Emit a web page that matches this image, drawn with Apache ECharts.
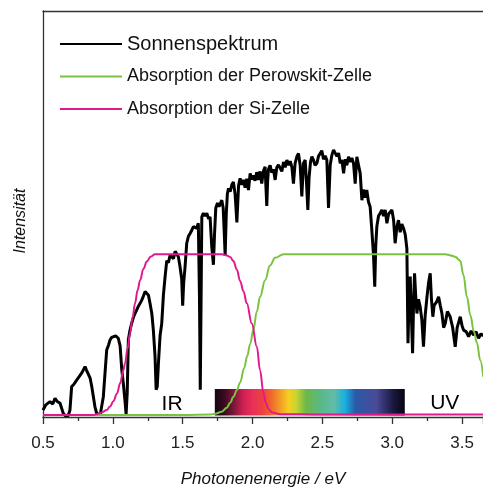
<!DOCTYPE html>
<html>
<head>
<meta charset="utf-8">
<script src="https://cdn.jsdelivr.net/npm/echarts@6/dist/echarts.min.js"></script>
<style>
html, body { margin: 0; padding: 0; background: #fff; }
#main { width: 483px; height: 487px; }
</style>
</head>
<body>
<div id="main"></div>
<script>
// Sonnenspektrum (photon energy in eV, intensity arb. units)
const spectrum = [
  [0.50, 1.7], [0.52, 3.0], [0.55, 3.8], [0.57, 3.2], [0.586, 4.6], [0.60, 3.9], [0.622, 3.4],
  [0.635, 2.0], [0.645, 0.9], [0.66, 0.3], [0.68, 0.3], [0.693, 1.7], [0.705, 7.5], [0.72, 8.0],
  [0.741, 9.1], [0.76, 10.0], [0.78, 11.0], [0.801, 12.4], [0.812, 11.5], [0.825, 11.2], [0.838, 9.5],
  [0.849, 7.5], [0.872, 2.5], [0.885, 0.8], [0.896, 0.5], [0.91, 0.6], [0.92, 0.9], [0.932, 5],
  [0.944, 10.8], [0.956, 16.5], [0.97, 17.8], [0.98, 19], [0.992, 19.6], [1.004, 19.8], [1.02, 20.0],
  [1.039, 19.4], [1.052, 17.5], [1.064, 11.6], [1.075, 8.3], [1.087, 4], [1.095, 0.7], [1.103, 6],
  [1.111, 19], [1.123, 21.4], [1.135, 23.1], [1.147, 24.5], [1.159, 25.5], [1.171, 26.4], [1.183, 27.3],
  [1.195, 28], [1.207, 28.8], [1.219, 29.8], [1.231, 30.9], [1.243, 31.2], [1.255, 30.0], [1.266, 28],
  [1.279, 25.5], [1.29, 21.4], [1.302, 15], [1.31, 6.7], [1.318, 7.5], [1.326, 13], [1.338, 20],
  [1.35, 23], [1.362, 30], [1.374, 34.5], [1.386, 38.5], [1.398, 38.0], [1.41, 39.9], [1.422, 40.3],
  [1.434, 39.0], [1.446, 40.8], [1.458, 41.1], [1.469, 39.5], [1.481, 37.0], [1.493, 34], [1.50, 27.4],
  [1.507, 33], [1.517, 37], [1.529, 42.8], [1.541, 44.5], [1.553, 45.2], [1.565, 46.0], [1.577, 46.9],
  [1.589, 47.3], [1.60, 46.5], [1.612, 47.7], [1.62, 30], [1.626, 6.7], [1.632, 30], [1.637, 49.3],
  [1.648, 50.2], [1.66, 49.5], [1.673, 50.2], [1.685, 48.8], [1.696, 49.3], [1.708, 42], [1.72, 37.5],
  [1.728, 45], [1.737, 51.5], [1.749, 52.7], [1.76, 51.8], [1.78, 53.4], [1.79, 51.5], [1.798, 45],
  [1.804, 39.8], [1.812, 50], [1.82, 55.0], [1.828, 56.3], [1.84, 55.5], [1.852, 57.2], [1.863, 57.9],
  [1.875, 55], [1.888, 47.9], [1.90, 57], [1.911, 58.8], [1.923, 57.2], [1.935, 58.4], [1.947, 56.5],
  [1.959, 58.7], [1.971, 55.9], [1.983, 60], [1.995, 58.5], [2.006, 59.5], [2.018, 58.2], [2.03, 60.3],
  [2.042, 58.4], [2.054, 60.5], [2.066, 57.5], [2.078, 60.6], [2.09, 61.6], [2.097, 56], [2.102, 52.0],
  [2.108, 58], [2.114, 61.0], [2.126, 62.0], [2.138, 60.2], [2.15, 61], [2.162, 58.4], [2.174, 61.5],
  [2.186, 62.1], [2.198, 62.5], [2.21, 60.5], [2.222, 62.8], [2.234, 61.5], [2.246, 63.3], [2.258, 62.0],
  [2.27, 63], [2.282, 61.5], [2.293, 57.5], [2.305, 62.5], [2.317, 64.1], [2.329, 64.9], [2.341, 62],
  [2.353, 54.3], [2.365, 62.5], [2.377, 63.3], [2.386, 58], [2.396, 51], [2.405, 59], [2.415, 62.8],
  [2.425, 64.1], [2.436, 63.3], [2.448, 62], [2.461, 62.5], [2.472, 64.2], [2.484, 64.1], [2.496, 65.6],
  [2.508, 63.5], [2.52, 64.3], [2.532, 63.3], [2.544, 51.5], [2.556, 62], [2.568, 64.5], [2.58, 65.8],
  [2.592, 66.2], [2.604, 64.2], [2.616, 65], [2.628, 62.5], [2.64, 63.3], [2.652, 60], [2.664, 63.5],
  [2.675, 62], [2.687, 64.1], [2.699, 62.8], [2.711, 63.8], [2.723, 62.5], [2.735, 57.5], [2.747, 64.1],
  [2.759, 62], [2.771, 60], [2.783, 53.4], [2.794, 56], [2.806, 54], [2.818, 55.9], [2.83, 53],
  [2.842, 51.8], [2.854, 46.1], [2.866, 40], [2.875, 32.1], [2.882, 42], [2.89, 46.9], [2.902, 49.5],
  [2.914, 50.2], [2.926, 51], [2.938, 49.5], [2.95, 51], [2.962, 47.7], [2.974, 50], [2.986, 50.2],
  [2.998, 51], [3.01, 48.5], [3.021, 42.8], [3.034, 46.9], [3.045, 48.5], [3.057, 45.5], [3.069, 47.5],
  [3.081, 46.5], [3.093, 45], [3.105, 41.5], [3.113, 18.2], [3.121, 30], [3.129, 34.6], [3.137, 25],
  [3.146, 15.7], [3.153, 28], [3.16, 35.4], [3.168, 30], [3.177, 25.5], [3.188, 29], [3.2, 27.2],
  [3.212, 24], [3.224, 17.3], [3.236, 25], [3.249, 29.6], [3.26, 33], [3.272, 35.4], [3.281, 29],
  [3.291, 24.7], [3.3, 27.5], [3.308, 27.2], [3.32, 28.5], [3.332, 29.6], [3.344, 27.5], [3.356, 25.5],
  [3.368, 22], [3.38, 23.1], [3.395, 26], [3.415, 24.7], [3.433, 22], [3.451, 17.3], [3.465, 22],
  [3.487, 24.7], [3.50, 22.5], [3.511, 21.4], [3.53, 21], [3.547, 19.8], [3.565, 21.2], [3.582, 20.2],
  [3.60, 21], [3.618, 19.4], [3.635, 20.5], [3.652, 20]
];

// Absorption der Perowskit-Zelle
const perovskite = [
  [0.5, 0.5], [1.0, 0.5], [1.5, 0.5], [1.70, 0.6], [1.732, 0.8], [1.78, 1.3], [1.816, 2.3],
  [1.84, 3.5], [1.863, 5], [1.888, 6.6], [1.911, 8.5], [1.94, 12], [1.962, 15], [1.983, 18],
  [2.006, 21.5], [2.031, 26], [2.054, 29.6], [2.09, 33.7], [2.125, 37.3], [2.162, 39.2], [2.222, 40.1],
  [2.5, 40.1], [3.0, 40.1], [3.38, 40.1], [3.42, 39.8], [3.45, 39.5], [3.487, 38.5], [3.51, 35],
  [3.535, 29.6], [3.56, 25], [3.585, 21], [3.607, 18.2], [3.63, 14], [3.652, 9.9]
];

// Absorption der Si-Zelle
const silicon = [
  [0.5, 0.5], [0.7, 0.5], [0.86, 0.5], [0.885, 0.7], [0.92, 1.1], [0.956, 1.7], [0.98, 2.6],
  [1.004, 3.9], [1.03, 5.8], [1.052, 8.3], [1.075, 11.5], [1.087, 13.2], [1.105, 16.8], [1.123, 20.6],
  [1.141, 24.5], [1.159, 28], [1.177, 31.2], [1.195, 33.7], [1.219, 36.5], [1.243, 38.3], [1.27, 39.5],
  [1.302, 40.1], [1.4, 40.1], [1.6, 40.1], [1.78, 40.1], [1.816, 39.8], [1.84, 39.4], [1.863, 38.4],
  [1.888, 36.3], [1.911, 33.5], [1.935, 31], [1.959, 28], [1.995, 23], [2.031, 17.3], [2.054, 11.5],
  [2.078, 6], [2.095, 3.5], [2.114, 2.0], [2.14, 1.1], [2.198, 0.7], [2.5, 0.6], [3.0, 0.6], [3.65, 0.6]
];

// visible-light band and region labels
const visibleBand = [1.73, 3.09];
const regionLabels = [[1.424, 3.1, 'IR'], [3.376, 3.3, 'UV']];
const xTicks = { min: 0.5, max: 3.65, interval: 0.5 };

const FONT = 'Liberation Sans, Arial, sans-serif';
const AXIS = '#333';

const rainbow = new echarts.graphic.LinearGradient(0, 0, 1, 0, [
  { offset: 0, color: '#14060e' },
  { offset: 0.05, color: '#3a0a20' },
  { offset: 0.11, color: '#8a1a40' },
  { offset: 0.15, color: '#d02050' },
  { offset: 0.2, color: '#e8305a' },
  { offset: 0.25, color: '#ec4040' },
  { offset: 0.29, color: '#f06030' },
  { offset: 0.33, color: '#f28c28' },
  { offset: 0.39, color: '#f5d020' },
  { offset: 0.43, color: '#c6d432' },
  { offset: 0.48, color: '#6db846' },
  { offset: 0.56, color: '#5ab88a' },
  { offset: 0.63, color: '#60bca8' },
  { offset: 0.685, color: '#18b0e0' },
  { offset: 0.74, color: '#2a5aa8' },
  { offset: 0.85, color: '#4a4a98' },
  { offset: 0.94, color: '#1a1840' },
  { offset: 1, color: '#050510' }
]);

const option = {
  animation: false,
  textStyle: { fontFamily: FONT },
  grid: { left: 43, right: 0, top: 11, bottom: 70, outerBoundsMode: 'none' },
  legend: {
    orient: 'vertical',
    left: 55,
    top: 29,
    icon: 'rect',
    itemWidth: 62,
    itemHeight: 2,
    itemGap: 12.5,
    textStyle: { color: '#111', fontFamily: FONT, fontSize: 18, lineHeight: 20 },
    data: [
      { name: 'Sonnenspektrum', textStyle: { fontSize: 20 } },
      { name: 'Absorption der Perowskit-Zelle' },
      { name: 'Absorption der Si-Zelle' }
    ]
  },
  xAxis: [
    {
      type: 'value',
      min: xTicks.min,
      max: xTicks.max,
      interval: xTicks.interval,
      name: 'Photonenenergie / eV',
      nameLocation: 'middle',
      nameGap: 54,
      nameTextStyle: { fontSize: 17, fontStyle: 'italic', color: '#111', fontFamily: FONT },
      axisLine: { lineStyle: { color: AXIS, width: 1.3 } },
      axisTick: { show: true, length: 7, lineStyle: { color: AXIS, width: 1.3 } },
      minorTick: { show: true, splitNumber: 2, length: 4, lineStyle: { color: AXIS, width: 1.3 } },
      axisLabel: {
        fontSize: 17, color: '#222', margin: 18, showMaxLabel: false,
        formatter: v => v.toFixed(1)
      },
      splitLine: { show: false }
    },
    {
      type: 'value',
      position: 'top',
      min: xTicks.min,
      max: xTicks.max,
      axisLine: { show: true, onZero: false, lineStyle: { color: AXIS, width: 1.3 } },
      axisTick: { show: false },
      axisLabel: { show: false },
      splitLine: { show: false }
    }
  ],
  yAxis: {
    type: 'value',
    min: 0,
    max: 100,
    name: 'Intensität',
    nameLocation: 'middle',
    nameGap: 14,
    nameTextStyle: { fontSize: 16, fontStyle: 'italic', color: '#111', fontFamily: FONT, padding: [0, 14, 0, 0] },
    axisLine: { show: true, lineStyle: { color: AXIS, width: 1.3 } },
    axisTick: { show: false },
    axisLabel: { show: false },
    splitLine: { show: false }
  },
  series: [
    {
      name: 'Sonnenspektrum',
      type: 'line',
      data: spectrum,
      symbol: 'none',
      lineStyle: { color: '#000', width: 3 },
      itemStyle: { color: '#000' },
      z: 2,
      markArea: {
        silent: true,
        itemStyle: { color: rainbow },
        data: [[{ xAxis: visibleBand[0], yAxis: 0.4 }, { xAxis: visibleBand[1], yAxis: 6.9 }]]
      }
    },
    {
      name: 'Absorption der Perowskit-Zelle',
      type: 'line',
      data: perovskite,
      symbol: 'none',
      smooth: 0.4,
      smoothMonotone: 'x',
      lineStyle: { color: '#7cc242', width: 2 },
      itemStyle: { color: '#7cc242' },
      z: 3
    },
    {
      name: 'Absorption der Si-Zelle',
      type: 'line',
      data: silicon,
      symbol: 'none',
      smooth: 0.4,
      smoothMonotone: 'x',
      lineStyle: { color: '#e0198c', width: 2 },
      itemStyle: { color: '#e0198c' },
      z: 4
    },
    {
      name: 'labels',
      type: 'scatter',
      data: regionLabels,
      symbolSize: 1,
      itemStyle: { color: 'rgba(255,255,255,0)', opacity: 1 },
      silent: true,
      label: {
        show: true,
        position: 'inside',
        formatter: p => p.value[2],
        fontSize: 21,
        color: '#000',
        opacity: 1,
        textBorderWidth: 0,
        fontFamily: FONT
      },
      z: 5
    }
  ]
};

const chart = echarts.init(document.getElementById('main'));
chart.setOption(option);
</script>
</body>
</html>
